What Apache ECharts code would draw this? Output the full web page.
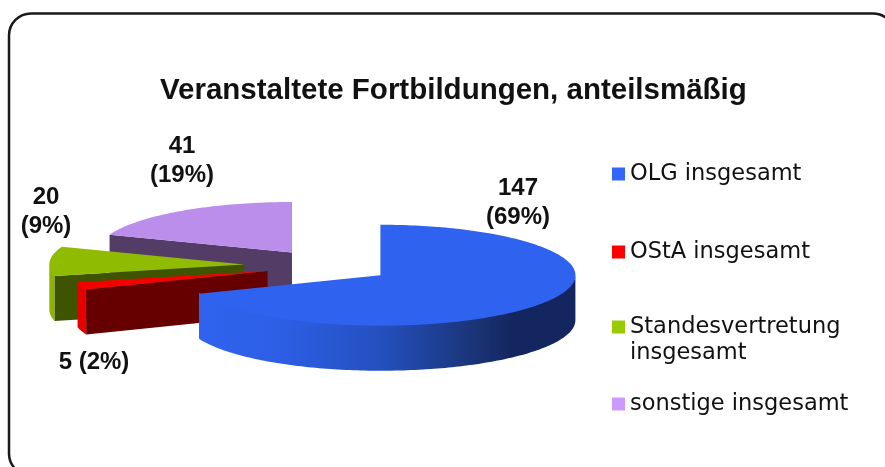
<!DOCTYPE html>
<html>
<head>
<meta charset="utf-8">
<style>
  html, body { margin: 0; padding: 0; background: #fff; }
  #main { width: 885px; height: 467px; }
</style>
<script src="https://cdn.jsdelivr.net/npm/echarts@6/dist/echarts.min.js"></script>
</head>
<body>
<div id="main"></div>
<script>
// Werte aus dem Diagramm
var names = ['OLG insgesamt', 'OStA insgesamt', 'Standesvertretung insgesamt', 'sonstige insgesamt'];
var values = [147, 5, 20, 41];
var percents = [69, 2, 9, 19];
var legendColors = ['#3366ff', '#ff0000', '#99cc00', '#cc99ff'];
var topColors = ['#2f62ee', '#f50000', '#8fbb00', '#bb8eec'];
var sideColors = ['#2f62ee', '#e60000', '#8ab400', '#bb8eec'];
var wallColors = ['#2f62ee', '#660000', '#3f5400', '#533c66'];

// Layout der Torte
var centerX = 328, centerY = 266, rx = 195, ry = 50.5, depth = 45;
var explode = [0.325, 0.325, 0.43, 0.325];
var labelPos = [[518, 203], [94, 362], [46, 212], [182, 161]];
var labelSep = ['\n', ' ', '\n', '\n'];
var legendTops = [156, 234, 283, 386];

var total = values.reduce(function (a, b) { return a + b; }, 0);

// Winkel im Uhrzeigersinn ab 12 Uhr
function sliceAngles(index) {
    var sum = 0;
    for (var i = 0; i < index; i++) {
        sum += values[i];
    }
    return [sum / total * Math.PI * 2, (sum + values[index]) / total * Math.PI * 2];
}

function point(cx, cy, angle, dy) {
    return [cx + Math.sin(angle) * rx, cy - Math.cos(angle) * ry + (dy || 0)];
}

function arcPoints(cx, cy, a0, a1, dy) {
    var pts = [];
    var n = Math.max(2, Math.ceil(Math.abs(a1 - a0) / 0.02));
    for (var i = 0; i <= n; i++) {
        pts.push(point(cx, cy, a0 + (a1 - a0) * i / n, dy));
    }
    return pts;
}

function poly(points, fill) {
    return { type: 'polygon', shape: { points: points }, style: { fill: fill } };
}

function renderSlice(index) {
    var a = sliceAngles(index);
    var mid = (a[0] + a[1]) / 2;
    var cx = centerX + Math.sin(mid) * rx * explode[index];
    var cy = centerY - Math.cos(mid) * ry * explode[index];
    var children = [];

    // Schnittflaeche vorne, nur wenn sie zum Betrachter zeigt
    if (a[0] > Math.PI) {
        var p = point(cx, cy, a[0]);
        children.push(poly([[cx, cy], p, [p[0], p[1] + depth], [cx, cy + depth]], wallColors[index]));
    }

    // Aussenwand, nur vordere Haelfte (oben 1px unter den Deckel, sonst Naht)
    var from = Math.max(a[0], Math.PI / 2);
    var to = Math.min(a[1], Math.PI * 1.5);
    if (to > from) {
        var fill = sideColors[index];
        if (index === 0) {
            fill = new echarts.graphic.LinearGradient(0, 0, 1, 0, [
                { offset: 0, color: '#2f62ee' },
                { offset: 0.21, color: '#2d5fe6' },
                { offset: 0.48, color: '#2450bf' },
                { offset: 0.75, color: '#1a3272' },
                { offset: 0.83, color: '#142660' },
                { offset: 1, color: '#142660' }
            ]);
        }
        children.push(poly(arcPoints(cx, cy, from, to, -1).concat(arcPoints(cx, cy, to, from, depth)), fill));
    }

    // Deckel
    children.push(poly([[cx, cy]].concat(arcPoints(cx, cy, a[0], a[1])), topColors[index]));

    // Beschriftung
    children.push({
        type: 'text',
        style: {
            x: labelPos[index][0],
            y: labelPos[index][1],
            text: values[index] + labelSep[index] + '(' + percents[index] + '%)',
            fill: '#111',
            font: 'bold 24px "Liberation Sans"',
            lineHeight: 29,
            align: 'center',
            verticalAlign: 'middle'
        }
    });
    return { type: 'group', children: children };
}

var series = names.map(function (name, i) {
    return {
        type: 'custom',
        name: name,
        coordinateSystem: 'none',
        z: 10 - i,
        silent: true,
        itemStyle: { color: legendColors[i] },
        data: [values[i]],
        renderItem: function () {
            return renderSlice(i);
        }
    };
});

var legends = names.map(function (name, i) {
    return {
        left: 607,
        top: legendTops[i],
        orient: 'vertical',
        selectedMode: false,
        icon: 'rect',
        itemWidth: 13,
        itemHeight: 13,
        data: [name],
        textStyle: {
            fontFamily: 'DejaVu Sans',
            fontSize: 22.5,
            lineHeight: 26,
            color: '#111'
        },
        formatter: function (n) {
            // zweite Zeile nur beim langen Namen
            return n === names[2] ? '\nStandesvertretung\ninsgesamt' : n;
        }
    };
});

var option = {
    backgroundColor: '#fff',
    animation: false,
    title: {
        text: 'Veranstaltete Fortbildungen, anteilsmäßig',
        left: 155,
        top: 71,
        textStyle: {
            fontFamily: 'Liberation Sans',
            fontWeight: 'bold',
            fontSize: 29.5,
            color: '#111'
        }
    },
    legend: legends,
    graphic: [{
        type: 'rect',
        silent: true,
        z: -1,
        shape: { x: 9, y: 13.5, width: 886, height: 462, r: 22 },
        style: { fill: 'none', stroke: '#1a1a1a', lineWidth: 2.5 }
    }],
    series: series
};

var myChart = echarts.init(document.getElementById('main'));
myChart.setOption(option);
</script>
</body>
</html>
